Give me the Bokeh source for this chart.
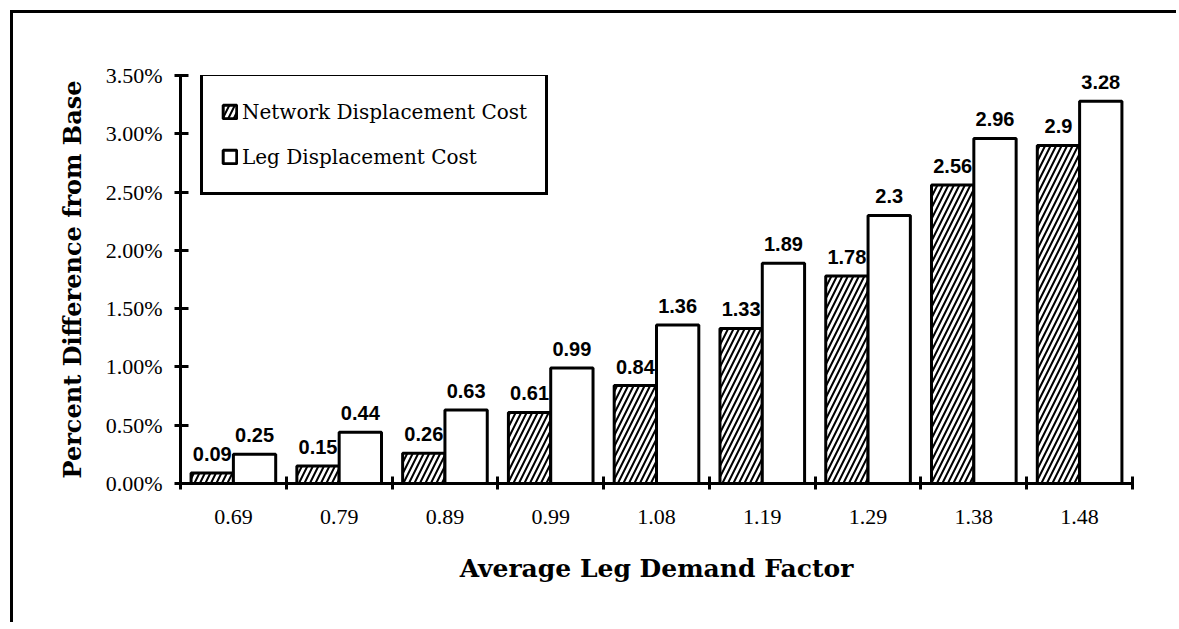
from bokeh.plotting import figure
from bokeh.models import Range1d, FixedTicker, ColumnDataSource, Legend, LegendItem
from bokeh.core.properties import value
from bokeh.embed import file_html
from bokeh.resources import INLINE

categories = ["0.69", "0.79", "0.89", "0.99", "1.08", "1.19", "1.29", "1.38", "1.48"]
network = [0.09, 0.15, 0.26, 0.61, 0.84, 1.33, 1.78, 2.56, 2.9]
leg = [0.25, 0.44, 0.63, 0.99, 1.36, 1.89, 2.3, 2.96, 3.28]
y_ticks = [0.0, 0.5, 1.0, 1.5, 2.0, 2.5, 3.0, 3.5]

n = len(categories)
centers = [i + 0.5 for i in range(n)]
bounds = [i for i in range(n + 1)]
bw = 0.4

src_net = ColumnDataSource(dict(x=[c - bw / 2 for c in centers], top=network,
                                lab=[str(v) for v in network]))
src_leg = ColumnDataSource(dict(x=[c + bw / 2 for c in centers], top=leg,
                                lab=[str(v) for v in leg]))

p = figure(width=1166, height=612, output_backend="svg", toolbar_location=None,
           x_range=Range1d(0, n), y_range=Range1d(0, 3.5),
           min_border_left=167, min_border_top=62, min_border_right=47,
           min_border_bottom=142, margin=(10, 0, 0, 10),
           styles={"border-top": "3px solid black", "border-left": "3px solid black"})
p.outline_line_color = None
p.xgrid.visible = False
p.ygrid.visible = False
p.background_fill_color = "white"
p.border_fill_color = "white"

r_net = p.vbar(x="x", top="top", width=bw, bottom=0, source=src_net,
               fill_color="white", line_color="black", line_width=3,
               hatch_pattern="/", hatch_color="black", hatch_scale=11, hatch_weight=2)
r_leg = p.vbar(x="x", top="top", width=bw, bottom=0, source=src_leg,
               fill_color="white", line_color="black", line_width=3)

lab_font = value("Liberation Sans")
p.text(x="x", y="top", text="lab", source=src_net, text_align="center",
       text_baseline="bottom", y_offset=-12, text_font=lab_font,
       text_font_style="bold", text_font_size="20px", text_color="black")
p.text(x="x", y="top", text="lab", source=src_leg, text_align="center",
       text_baseline="bottom", y_offset=-12, text_font=lab_font,
       text_font_style="bold", text_font_size="20px", text_color="black")

tick_font = "Liberation Serif"

# x axis
xa = p.xaxis[0]
xa.ticker = FixedTicker(ticks=centers, minor_ticks=bounds)
xa.major_label_overrides = {c: lab for c, lab in zip(centers, categories)}
xa.major_tick_line_color = None
xa.major_tick_in = 0
xa.major_tick_out = 0
xa.minor_tick_in = 7
xa.minor_tick_out = 6
xa.minor_tick_line_width = 3
xa.minor_tick_line_color = "black"
xa.axis_line_width = 3
xa.axis_line_color = "black"
xa.major_label_standoff = 20
xa.major_label_text_font = tick_font
xa.major_label_text_font_size = "22px"
xa.major_label_text_color = "black"
xa.axis_label = "Average Leg Demand Factor"
xa.axis_label_text_font = "DejaVu Serif"
xa.axis_label_text_font_style = "bold"
xa.axis_label_text_font_size = "25px"
xa.axis_label_text_color = "black"
xa.axis_label_standoff = 27

# y axis
ya = p.yaxis[0]
ya.ticker = FixedTicker(ticks=y_ticks, minor_ticks=[])
ya.major_label_overrides = {t: f"{t:.2f}%" for t in y_ticks}
ya.major_tick_in = 8
ya.major_tick_out = 6
ya.major_tick_line_width = 3
ya.major_tick_line_color = "black"
ya.axis_line_width = 3
ya.axis_line_color = "black"
ya.major_label_standoff = 12
ya.major_label_text_font = tick_font
ya.major_label_text_font_size = "22px"
ya.major_label_text_color = "black"
ya.axis_label = "Percent Difference from Base"
ya.axis_label_text_font = "DejaVu Serif"
ya.axis_label_text_font_style = "bold"
ya.axis_label_text_font_size = "24px"
ya.axis_label_text_color = "black"
ya.axis_label_standoff = 16

legend = Legend(items=[LegendItem(label="Network Displacement Cost", renderers=[r_net]),
                       LegendItem(label="Leg Displacement Cost", renderers=[r_leg])],
                location=(20, 288), orientation="vertical")
legend.border_line_color = "black"
legend.border_line_width = 3
legend.border_line_alpha = 1
legend.background_fill_color = "white"
legend.background_fill_alpha = 1
legend.padding = 18
legend.spacing = 10
legend.margin = 0
legend.label_height = 35
legend.glyph_height = 17
legend.glyph_width = 17
legend.label_standoff = 4
legend.label_text_font = "DejaVu Serif"
legend.label_text_font_size = "20px"
legend.label_text_color = "black"
p.add_layout(legend, "center")

open("out.html", "w").write(file_html(p, INLINE))
